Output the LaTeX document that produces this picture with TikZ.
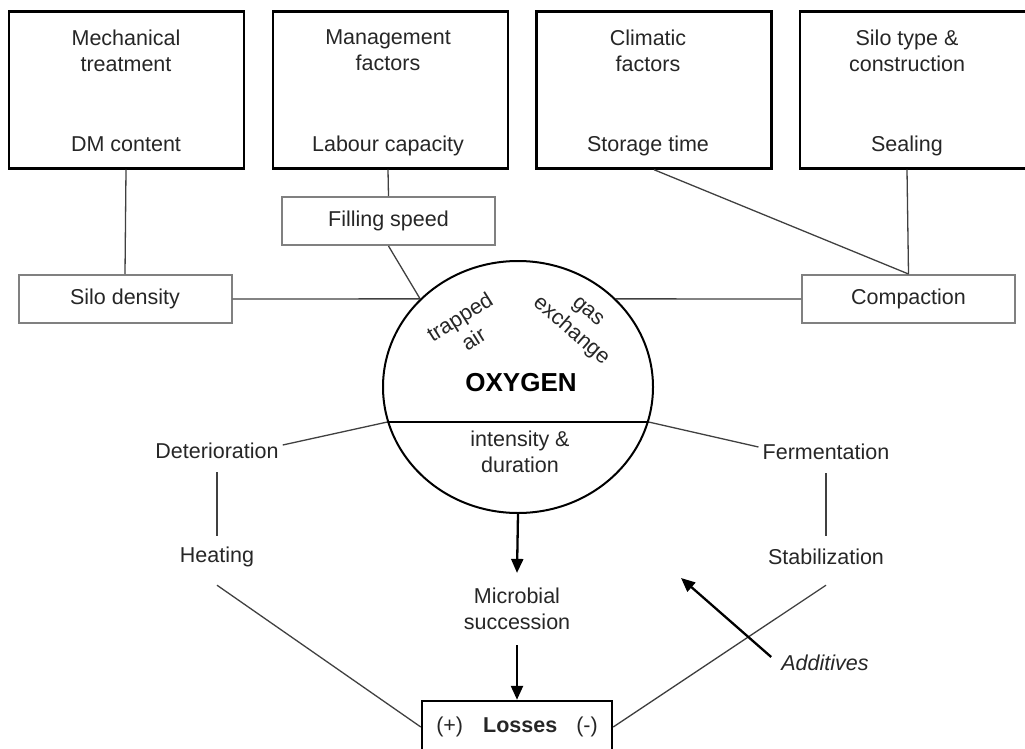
\documentclass[tikz,border=0pt]{standalone}
\usepackage{fontspec}
\setmainfont{Liberation Sans}
\usetikzlibrary{arrows.meta,shapes.geometric}
\newcommand\bodyfont{\fontsize{21.5}{26}\selectfont}

\begin{document}
\begin{tikzpicture}[x=1pt,y=-1pt,font=\bodyfont,
  topbox/.style={draw=black,line width=2.4pt,minimum width=235pt,minimum height=157pt,inner sep=0},
  greybox/.style={draw=black!50,line width=2pt,minimum width=213pt,minimum height=48pt,text=black!85},
  lbl/.style={align=center,text=black!85,inner sep=0},
  link/.style={draw=black!75,line width=1.3pt},
  flow/.style={line width=2.3pt,-{Triangle[length=14pt,width=12pt]}}]
\useasboundingbox (0,0) rectangle (1025,749);
% factor boxes
\node[topbox] (mech) at (126.5,90) {};
\node[lbl,anchor=north] (mechT) at (126,30) {Mechanical\\treatment};
\node[lbl,anchor=base] (dm) at (126,152) {DM content};
\node[topbox] (mgmt) at (390.5,90) {};
\node[lbl,anchor=north] (mgmtT) at (388,30) {Management\\factors};
\node[lbl,anchor=base] (lab) at (388,152) {Labour capacity};
\node[topbox] (clim) at (654,90) {};
\node[lbl,anchor=north] (climT) at (648,30) {Climatic\\factors};
\node[lbl,anchor=base] (stor) at (648,152) {Storage time};
\node[topbox,minimum width=240pt] (silotype) at (920,90) {};
\node[lbl,anchor=north] (silotypeT) at (907,30) {Silo type \&\\construction};
\node[lbl,anchor=base] (seal) at (907,152) {Sealing};
% middle row
\node[greybox] (silo) at (125,299) {Silo density};
\node[greybox] (fill) at (388.5,221) {Filling speed};
\node[greybox] (compact) at (908.5,299) {Compaction};
\draw[link] (dm |- mech.south) -- (silo.north);
\draw[link] (lab |- mgmt.south) -- (fill.north);
\draw[link] (clim.south) -- (compact.north);
\draw[link] (seal |- silotype.south) -- (compact.north);
% oxygen
\node[ellipse,draw,line width=2pt,minimum width=270pt,minimum height=252pt,inner sep=0] (oxy) at (518,387) {};
\draw[line width=1.3pt] (oxy.195) -- (oxy.-15);
\node[lbl,rotate=32] (trap) at (466.5,327.5) {trapped\\air};
\node[lbl,rotate=-41] (gas) at (578.5,322.5) {gas\\exchange};
\node[lbl,font=\fontsize{26}{30}\selectfont\bfseries,text=black] (oxyT) at (521,383) {OXYGEN};
\node[lbl] (intens) at (520,452) {intensity \&\\duration};
\draw[link] (silo.east) -- (oxy.138);
\draw[link] (fill.south) -- (oxy.138);
\draw[link] (oxy.42) -- (compact.west);
% outcomes
\node[lbl,minimum height=42pt] (det) at (217,451) {Deterioration};
\node[lbl,minimum height=42pt] (heat) at (217,557) {Heating};
\node[lbl,minimum height=42pt] (ferm) at (826,452) {Fermentation};
\node[lbl,minimum height=42pt] (stab) at (826,557) {Stabilization};
\node[lbl,inner sep=15pt] (micro) at (517,609) {Microbial\\succession};
\node[draw,line width=2.4pt,minimum width=190pt,minimum height=52pt,text=black!85] (loss) at (517,727)
  {(+)\hspace{20pt}\textbf{Losses}\hspace{19pt}(-)};
\node[lbl,font=\bodyfont\itshape] (add) at (825,663) {Additives};
\coordinate (addtip) at (681,578);
\draw[link] ([xshift=4pt,yshift=6pt]det.east) -- (oxy.195);
\draw[link] (oxy.-15) -- ([xshift=-4pt,yshift=5pt]ferm.west);
\draw[link] (det.south) -- (heat.north);
\draw[link] (ferm.south) -- (stab.north);
\draw[link] ([yshift=-7pt]heat.south) -- (loss.west);
\draw[link] ([yshift=-7pt]stab.south) -- (loss.east);
\draw[flow] (oxy.south) -- (micro.north);
\draw[flow] (micro.south) -- (loss.north);
\draw[flow] ([xshift=-10pt,yshift=6pt]add.west) -- (addtip);
\end{tikzpicture}
\end{document}
